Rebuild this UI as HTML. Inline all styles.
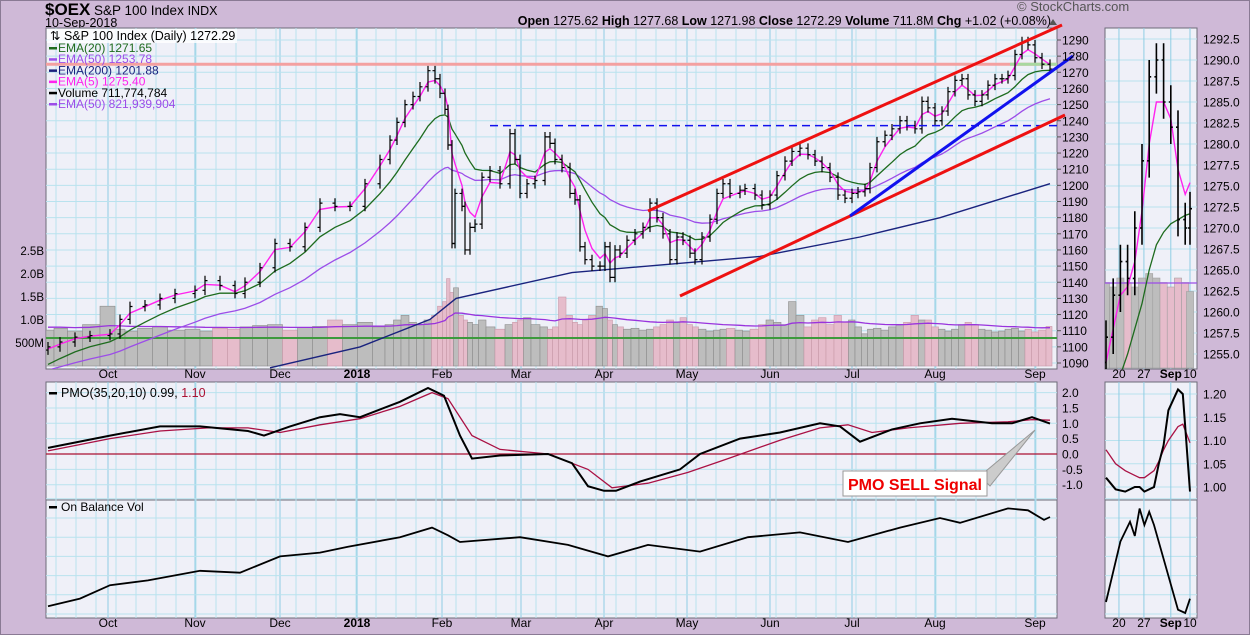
<!DOCTYPE html>
<html><head><meta charset="utf-8">
<style>
html,body{margin:0;padding:0;background:#cfb9d7;}
svg{display:block;font-family:"Liberation Sans",sans-serif;}
</style></head>
<body>
<svg id="c" width="1250" height="635" viewBox="0 0 1250 635" xmlns="http://www.w3.org/2000/svg">
<defs>
<clipPath id="cpMain"><rect x="46" y="28" width="1011" height="341"/></clipPath>
<clipPath id="cpZoom"><rect x="1105" y="28" width="92" height="341"/></clipPath>
</defs>
<rect x="0" y="0" width="1250" height="635" fill="#cfb9d7"/>
<rect x="0.5" y="0.5" width="1249" height="634" fill="none" stroke="#8a7a94"/>
<text x="45" y="15" font-size="17" font-weight="bold" fill="#000">$OEX</text>
<text x="94" y="15" font-size="13.5" fill="#000">S&amp;P 100 Index <tspan font-size="12.5">INDX</tspan></text>
<text x="45" y="27" font-size="12.5" fill="#000">10-Sep-2018</text>
<text x="1017" y="11" font-size="13" fill="#555">© StockCharts.com</text>
<text x="1051" y="25" font-size="12.5" fill="#000" text-anchor="end"><tspan font-weight="bold">Open</tspan> 1275.62  <tspan font-weight="bold">High</tspan> 1277.68  <tspan font-weight="bold">Low</tspan> 1271.98  <tspan font-weight="bold">Close</tspan> 1272.29  <tspan font-weight="bold">Volume</tspan> 711.8M  <tspan font-weight="bold">Chg</tspan> +1.02 (+0.08%)</text>
<polygon points="1049,25 1057,25 1053,19" fill="#555"/>
<g id="g"></g>
</svg>
<script>
// ---- main price data (trading-day index, close) ----
const days=[0,3,6.75,10.5,15.5,18,20.5,24.25,28,31.75,36.75,39.25,43,46.75,49.25,53,56.75,60.5,64.25,68,71.75,75.5,79.25,83,85.5,87.25,89.25,91.25,93,95,96.75,98,99.25,100,101,101.75,103.5,104.25,105.5,106.75,108.5,110.5,113,115.5,116.75,118,119.75,121.75,124.25,125.5,126.75,128.5,130.5,131.75,133,134.25,136,138,139.25,140.5,141.75,143,144.75,146.75,148.75,150.5,152.25,153.75,155.5,157.25,158.75,160.5,161.75,163.5,165.5,167.25,168.75,170.5,173,174.25,176.75,178.5,180.5,182.25,184.25,186,188,190,191.75,193.5,195.5,197.5,199.25,201,202.5,204.25,205.5,207.25,209.25,211,213,214.75,216.75,218.5,220,221.75,223.5,225,226.75,228.5,230,231.75,233.5,235,236.75,238.5,240,241.75,243.5,245,246.75,248.5,250.5];
const closes=[1100,1103,1106,1107,1108,1117,1125,1126,1130,1133,1135,1141,1138,1133,1140,1149,1164,1162,1174,1189,1187,1187,1201,1216,1228,1239,1250,1255,1261,1271,1266,1257,1247,1225,1164,1195,1187,1160,1174,1176,1205,1209,1201,1232,1216,1195,1201,1203,1230,1226,1216,1211,1195,1191,1162,1154,1150,1150,1162,1143,1160,1158,1166,1170,1174,1189,1180,1170,1154,1168,1166,1158,1154,1168,1179,1195,1201,1195,1197,1198,1194,1188,1194,1206,1215,1221,1223,1219,1215,1211,1205,1194,1192,1195,1196,1198,1211,1227,1231,1235,1240,1237,1235,1252,1248,1240,1246,1258,1265,1266,1256,1252,1256,1262,1266,1266,1268,1281,1289,1287,1279,1275,1272];
const volumes=[780,820,760,900,1300,800,760,820,850,780,800,760,820,800,850,880,900,780,840,860,1000,900,950,850,900,1000,1100,950,900,1000,1100,1300,1400,1900,1600,1700,1100,1000,950,900,1000,850,800,900,950,1000,1050,900,850,800,850,1500,1100,950,900,1000,1100,1300,1250,1000,900,850,800,820,780,800,850,900,1000,950,1050,900,850,800,760,780,800,820,780,760,800,900,1000,950,900,1400,1100,850,1000,1050,900,1100,950,1000,850,700,800,820,780,850,900,950,1100,1000,1000,850,800,760,800,900,950,900,800,780,740,760,800,820,760,800,740,780,860,900,880,820,720];
const ema200Days=[55.5,78,95.5,102,131,178,203,223,250.5];
const ema200Vals=[1087,1100,1117,1130,1146,1156,1168,1180,1201];
const priceTicks=[1090,1100,1110,1120,1130,1140,1150,1160,1170,1180,1190,1200,1210,1220,1230,1240,1250,1260,1270,1280,1290];
const volTicks=[500,1000,1500,2000,2500];
const volTickLabels=["500M","1.0B","1.5B","2.0B","2.5B"];
const months=["Oct","Nov","Dec","2018","Feb","Mar","Apr","May","Jun","Jul","Aug","Sep"];
const monthDays=[15,36.75,58,77.25,98.5,118.25,139,159.75,180.5,201,221.75,246.75];
// ---- PMO ----
const pmoDays=[0,15.5,28,38,50,54,60.5,68,73,78,88,95,99,103,106,113,125,131,135,139,142,148,158,163,173,183,193,198,203,211,218,226,236,241,246,250.5];
const pmoVals=[0.2,0.6,0.9,0.9,0.75,0.6,0.9,1.2,1.3,1.2,1.7,2.15,1.9,0.6,-0.15,-0.05,0.0,-0.3,-1.05,-1.2,-1.2,-0.9,-0.5,0.0,0.5,0.7,1.0,0.9,0.4,0.8,1.0,1.15,1.0,1.0,1.2,0.99];
const sigDays=[0,15.5,28,40,50,58,68,78,88,96,100,106,113,125,135,141,150,160,170,183,193,200,206,215,228,240,246,250.5];
const sigVals=[0.1,0.5,0.75,0.85,0.85,0.7,0.95,1.15,1.55,2.0,1.8,0.6,0.15,0.0,-0.5,-1.1,-0.95,-0.6,-0.15,0.45,0.85,0.95,0.7,0.85,1.0,1.05,1.12,1.10];
const pmoTicks=[-1,-0.5,0,0.5,1,1.5,2];
const pmoTickLabels=["-1.0","-0.5","0.0","0.5","1.0","1.5","2.0"];
// ---- OBV ----
const obvDays=[0,8,15.5,25,38,48,58,68,75,88,96,100,103,118,130,140,150,163,175,188,200,213,223,228,240,245,249,250.5];
const obvVals=[0.8,1.6,3.0,3.5,4.5,4.3,6.0,6.4,7.0,8.0,9.0,8.2,7.5,8.0,7.2,6.0,7.2,6.5,8.0,8.5,7.5,9.0,10.0,9.5,11.0,10.8,9.8,10.1];
// ---- right zoom panel ----
const zDays=[0,1.5,3,4.5,6,7.5,9,10.5,12,13.5,15,16.5,17.5];
const zCloses=[1257,1262,1266,1264,1270,1278,1288,1290,1285,1282,1271,1270,1272.3];
const zEma5=[1254,1258,1262,1263,1266,1272,1280,1285,1285,1283,1277,1274,1275.4];
const zEma20=[1248,1250,1252.5,1255,1258,1261,1265,1268,1269.5,1270.5,1271,1271.5,1271.7];
const zVols=[950,900,1000,950,900,1000,1050,1000,950,900,1000,950,850];
const zPriceTicks=[1255,1257.5,1260,1262.5,1265,1267.5,1270,1272.5,1275,1277.5,1280,1282.5,1285,1287.5,1290,1292.5];
const zPmoDays=[0,2,4,6,7,8,10,11,12,13,15,16,17.5];
const zPmoVals=[1.02,0.995,0.99,1.0,1.0,0.99,1.0,1.05,1.09,1.165,1.21,1.2,0.99];
const zSigVals=[1.08,1.05,1.035,1.025,1.02,1.02,1.035,1.055,1.08,1.10,1.13,1.135,1.095];
const zPmoTicks=[1.0,1.05,1.1,1.15,1.2];
const zObvDays=[0,3,5,6,7,8,9,10,15,16.5,17.5];
const zObvVals=[1.0,6.5,8.3,7.0,9.5,8.0,9.2,8.0,0.3,0.0,1.3];
const zLabels=["20","27","Sep","10"];
const zLabelDays=[2.7,7.9,13.5,17.5];

const NS="http://www.w3.org/2000/svg";
const G=document.getElementById('g');
function mk(tag,attrs,parent){const e=document.createElementNS(NS,tag);for(const k in attrs)e.setAttribute(k,attrs[k]);(parent||G).appendChild(e);return e;}
function txt(x,y,s,attrs,parent){const t=mk('text',Object.assign({x:x,y:y},attrs||{}),parent);t.textContent=s;return t;}
const PL=46,PR=1057,PT=28,PB=369;
const PMT=382,PMB=500,OBT=500,OBB=618;
const ZL=1105,ZR=1197;
const xd=d=>48+d*4.0;
const yp=p=>40+(1290-p)*1.615;
const yv=v=>366-v*0.046;
const ypm=v=>454-v*30.7;
const yob=v=>614-v*9.6;
const zx=d=>1106+d*4.8;
const zyp=p=>39+(1292.5-p)*8.4;
const zyv=v=>368-v*0.09;
const zypm=v=>487-(v-1.0)*465;
const zyob=v=>613-v*11;
function poly(pts,attrs,parent){return mk('polyline',Object.assign({points:pts.map(p=>p[0].toFixed(1)+','+p[1].toFixed(1)).join(' '),fill:'none'},attrs),parent);}
function emaCalc(period,seed){const out=[];let e=seed;for(let i=0;i<closes.length;i++){const gap=i===0?1:(days[i]-days[i-1]);const a=2/(period+1);const aa=1-Math.pow(1-a,gap);e=e+aa*(closes[i]-e);out.push(e);}return out;}

function panel(x1,y1,x2,y2,name){const r=mk('rect',{x:x1,y:y1,width:x2-x1,height:y2-y1,fill:'#eff0f8',stroke:'#6c6c78','stroke-width':1});
}
panel(PL,PT,PR,PB,'price-panel');panel(PL,PMT,PR,PMB,'pmo-panel');panel(PL,OBT,PR,OBB,'obv-panel');
panel(ZL,PT,ZR,PB,'zoom-price-panel');panel(ZL,PMT,ZR,PMB,'zoom-pmo-panel');panel(ZL,OBT,ZR,OBB,'zoom-obv-panel');

const grid=mk('g',{});
for(let d=2;d<=250;d+=5){const x=xd(d);[[PT,PB],[PMT,PMB],[OBT,OBB]].forEach(r=>mk('line',{x1:x,x2:x,y1:r[0],y2:r[1],stroke:'#b9e2ee','stroke-width':1},grid));}
monthDays.forEach(d=>{const x=xd(d);[[PT,PB],[PMT,PMB],[OBT,OBB]].forEach(r=>mk('line',{x1:x,x2:x,y1:r[0],y2:r[1],stroke:'#8fcde4','stroke-width':1},grid));});
priceTicks.forEach(p=>mk('line',{x1:PL,x2:PR,y1:yp(p),y2:yp(p),stroke:'#b9e2ee'},grid));
pmoTicks.forEach(v=>mk('line',{x1:PL,x2:PR,y1:ypm(v),y2:ypm(v),stroke:'#b9e2ee'},grid));
for(let v=0;v<=12;v+=2){mk('line',{x1:PL,x2:PR,y1:yob(v),y2:yob(v),stroke:'#b9e2ee'},grid);mk('line',{x1:ZL,x2:ZR,y1:yob(v),y2:yob(v),stroke:'#b9e2ee'},grid);}
zPriceTicks.forEach(p=>mk('line',{x1:ZL,x2:ZR,y1:zyp(p),y2:zyp(p),stroke:'#b9e2ee'},grid));
zPmoTicks.forEach(v=>mk('line',{x1:ZL,x2:ZR,y1:zypm(v),y2:zypm(v),stroke:'#b9e2ee'},grid));
zLabelDays.forEach(d=>[[PT,PB],[PMT,PMB],[OBT,OBB]].forEach(r=>mk('line',{x1:zx(d),x2:zx(d),y1:r[0],y2:r[1],stroke:'#8fcde4'},grid)));

const M=mk('g',{'clip-path':'url(#cpMain)'});
const vg=mk('g',{},M);
for(let i=0;i<closes.length;i++){const v=volumes[i]!==undefined?volumes[i]:800;const x0=i===0?xd(days[0])-2:(xd(days[i-1])+xd(days[i]))/2;const x1=i===closes.length-1?xd(days[i])+2:(xd(days[i])+xd(days[i+1]))/2;
const up=i===0||closes[i]>=closes[i-1];const r=mk('rect',{x:x0,y:yv(v),width:Math.max(1,x1-x0),height:366-yv(v),fill:up?'#bdbdbd':'#e6bccb',stroke:up?'#8c8c8c':'#c89aaa','stroke-width':0.6},vg);
}
{let e=850;const pts=[];for(let i=0;i<closes.length;i++){const v=volumes[i]!==undefined?volumes[i]:800;e=e+0.08*(v-e);pts.push([xd(days[i]),yv(e)]);}
const l=poly(pts,{stroke:'#9933dd','stroke-width':1.3},M);}
const gl=mk('line',{x1:PL,x2:PR,y1:338,y2:338,stroke:'#3d9a3d','stroke-width':2},M);
const hr=mk('line',{x1:PL,x2:PR,y1:yp(1275),y2:yp(1275),stroke:'#f4a0a0','stroke-width':3},M);
const gr=mk('line',{x1:1010,x2:PR,y1:yp(1275),y2:yp(1275),stroke:'#a8d8a0','stroke-width':3},M);

const e5=emaCalc(5,1098),e20=emaCalc(20,1088),e50=emaCalc(50,1085);
let l;
l=poly(ema200Days.map((d,i)=>[xd(d),yp(ema200Vals[i])]),{stroke:'#1a237e','stroke-width':1.4},M);
l=poly(days.map((d,i)=>[xd(d),yp(e50[i])]),{stroke:'#9c4de8','stroke-width':1.3},M);
l=poly(days.map((d,i)=>[xd(d),yp(e20[i])]),{stroke:'#1e6b1e','stroke-width':1.3},M);
l=poly(days.map((d,i)=>[xd(d),yp(e5[i])]),{stroke:'#ff22ee','stroke-width':1.4},M);

const bg=mk('g',{stroke:'#000','stroke-width':1.2},M);
for(let i=0;i<closes.length;i++){const o=i===0?closes[0]-2:closes[i-1];const c=closes[i];const hi=Math.max(o,c)+3,lo=Math.min(o,c)-3;const x=xd(days[i]);
const b=mk('path',{d:`M${x},${yp(hi)}V${yp(lo)}M${x-2.5},${yp(o)}H${x}M${x},${yp(c)}H${x+2.5}`,fill:'none'},bg);}

l=mk('line',{x1:490,x2:PR,y1:yp(1237),y2:yp(1237),stroke:'#1111ee','stroke-width':1.5,'stroke-dasharray':'8,5'});
l=mk('line',{x1:648,y1:211,x2:1062,y2:25,stroke:'#ee1111','stroke-width':3});
l=mk('line',{x1:680,y1:296,x2:1065,y2:115,stroke:'#ee1111','stroke-width':3});
l=mk('line',{x1:850,y1:216,x2:1073,y2:56,stroke:'#1111ee','stroke-width':3});

priceTicks.forEach(p=>{const t=txt(1062,yp(p)+4.5,String(p),{'font-size':12,fill:'#000'});mk('line',{x1:PR,x2:PR+4,y1:yp(p),y2:yp(p),stroke:'#555'});});
volTicks.forEach((v,i)=>{const t=txt(44,yv(v)+4,volTickLabels[i],{'font-size':11.5,fill:'#000','text-anchor':'end'});});
months.forEach((m,i)=>{[378,627].forEach(y=>{const t=txt(xd(monthDays[i]),y,m,{'font-size':12,fill:'#000','text-anchor':'middle','font-weight':m==='2018'?'bold':'normal'});});});

const leg=mk('g',{'font-size':12});
mk('rect',{x:PL+1,y:PT+1,width:190,height:14,fill:'#ffffff','fill-opacity':0.8},leg);
txt(50,40,'⇅ S&P 100 Index (Daily) 1272.29',{fill:'#000','font-size':12.5},leg);
const legItems=[['EMA(20) 1271.65','#1e6b1e'],['EMA(50) 1253.78','#9c4de8'],['EMA(200) 1201.88','#1a237e'],['EMA(5) 1275.40','#ff22ee'],['Volume 711,774,784','#000'],['EMA(50) 821,939,904','#9c4de8']];
legItems.forEach((it,i)=>{const y=52+i*11.2;mk('rect',{x:49,y:y-5,width:8,height:2.5,fill:it[1]},leg);const t=txt(58,y,it[0],{fill:it[1]},leg);});

l=mk('line',{x1:PL,x2:PR,y1:ypm(0),y2:ypm(0),stroke:'#aa1133','stroke-width':1.2});
l=poly(sigDays.map((d,i)=>[xd(d),ypm(sigVals[i])]),{stroke:'#aa1144','stroke-width':1.3});
l=poly(pmoDays.map((d,i)=>[xd(d),ypm(pmoVals[i])]),{stroke:'#000','stroke-width':2});
pmoTicks.forEach((v,i)=>{const t=txt(1062,ypm(v)+4.5,pmoTickLabels[i],{'font-size':12,fill:'#000'});});
{const pl=mk('g',{'font-size':12.5});
mk('rect',{x:49,y:392,width:8,height:2.5,fill:'#000'},pl);const t=txt(61,397,'PMO(35,20,10) 0.99, ',{fill:'#000'},pl);const s=mk('tspan',{fill:'#aa1133'},t);s.textContent='1.10';}
{const cg=mk('g',{});
mk('polygon',{points:'980,476 1035,430 990,486',fill:'#ccc',stroke:'#999'},cg);
mk('rect',{x:843,y:471,width:144,height:25,fill:'#fff',stroke:'#999'},cg);
txt(848,490,'PMO SELL Signal',{'font-size':16,'font-weight':'bold',fill:'#ee0000'},cg);}

l=poly(obvDays.map((d,i)=>[xd(d),yob(obvVals[i])]),{stroke:'#000','stroke-width':1.8});
{const ol=mk('g',{'font-size':12});mk('rect',{x:49,y:506,width:8,height:2.5,fill:'#000'},ol);txt(61,511,'On Balance Vol',{fill:'#000'},ol);}

// ---- zoom panel ----
const zg=mk('g',{});
const zc=mk('g',{'clip-path':'url(#cpZoom)'},zg);
zDays.forEach((d,i)=>{const v=zVols[i];const up=i===0||zCloses[i]>=zCloses[i-1];const r=mk('rect',{x:zx(d)-3.6,y:zyv(v),width:7.2,height:368-zyv(v),fill:up?'#bdbdbd':'#e6bccb',stroke:'#999','stroke-width':0.5},zc);});
mk('line',{x1:ZL,x2:ZR,y1:283,y2:283,stroke:'#9c4de8','stroke-width':1.3},zc);
l=poly(zDays.map((d,i)=>[zx(d),zyp(zEma20[i])]),{stroke:'#1e6b1e','stroke-width':1.3},zc);
l=poly(zDays.map((d,i)=>[zx(d),zyp(zEma5[i])]),{stroke:'#ff22ee','stroke-width':1.4},zc);
zDays.forEach((d,i)=>{const o=i===0?zCloses[0]-3:zCloses[i-1];const c=zCloses[i];const hi=Math.max(o,c)+2,lo=Math.min(o,c)-2;const x=zx(d);
const b=mk('path',{d:`M${x},${zyp(hi)}V${zyp(lo)}M${x-2},${zyp(o)}H${x}M${x},${zyp(c)}H${x+2}`,stroke:'#000','stroke-width':1.6,fill:'none'},zc);});
zPriceTicks.forEach(p=>{const t=txt(1203,zyp(p)+4.5,p.toFixed(1),{'font-size':12,fill:'#000'});});
l=poly(zPmoDays.map((d,i)=>[zx(d),zypm(zSigVals[i])]),{stroke:'#aa1144','stroke-width':1.3},zg);
l=poly(zPmoDays.map((d,i)=>[zx(d),zypm(zPmoVals[i])]),{stroke:'#000','stroke-width':2},zg);
zPmoTicks.forEach(v=>{const t=txt(1203,zypm(v)+4.5,v.toFixed(2),{'font-size':12,fill:'#000'});});
l=poly(zObvDays.map((d,i)=>[zx(d),zyob(zObvVals[i])]),{stroke:'#000','stroke-width':1.8},zg);
zLabels.forEach((s,i)=>[378,627].forEach(y=>{const t=txt(zx(zLabelDays[i]),y,s,{'font-size':12,fill:'#000','text-anchor':'middle','font-weight':s==='Sep'?'bold':'normal'});}));
</script>
</body></html>
